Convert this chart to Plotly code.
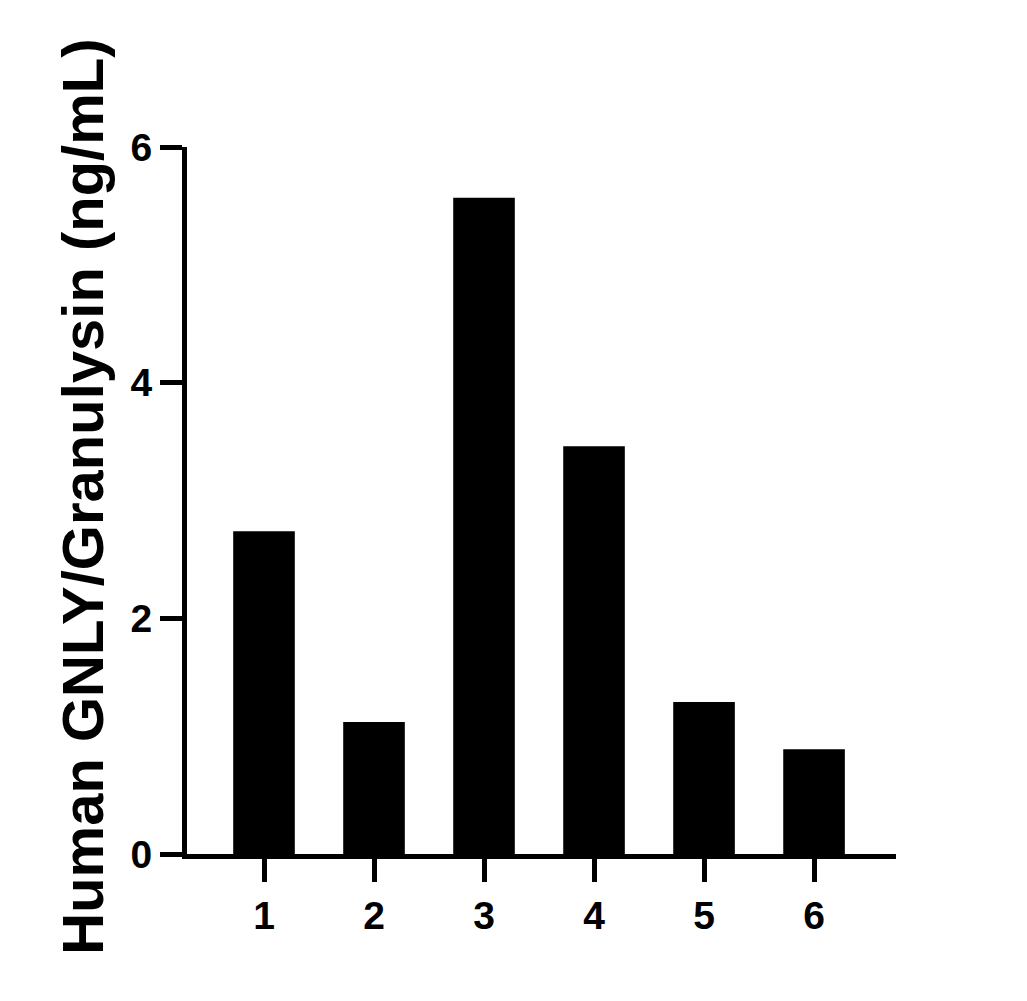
import plotly.graph_objects as go

# Sample numbers and measured GNLY concentration
samples = [1, 2, 3, 4, 5, 6]
sample_labels = ['1', '2', '3', '4', '5', '6']
gnly_ng_ml = [2.74, 1.12, 5.57, 3.46, 1.29, 0.89]

y_ticks = [0, 2, 4, 6]

font_family = 'Liberation Sans, Arial, sans-serif'

fig = go.Figure()

fig.add_trace(go.Bar(
    x=samples,
    y=gnly_ng_ml,
    width=0.56,
    marker=dict(color='black', line=dict(width=0)),
    showlegend=False,
))

# page body adds ~8px offset, so margins are shifted left/up to compensate
fig.update_layout(
    width=1027,
    height=1001,
    margin=dict(l=179, r=139, t=139, b=155),
    paper_bgcolor='white',
    plot_bgcolor='white',
    font=dict(family=font_family, color='black', size=38, weight='bold'),
)

fig.update_xaxes(
    range=[0.3, 6.745],
    tickmode='array',
    tickvals=samples,
    ticktext=sample_labels,
    showgrid=False,
    zeroline=False,
    showline=True,
    linecolor='black',
    linewidth=5,
    ticks='outside',
    ticklen=23,
    tickwidth=5,
    tickcolor='black',
    tickfont=dict(size=39, family=font_family, weight='bold'),
)

fig.update_yaxes(
    range=[0, 6],
    tickmode='array',
    tickvals=y_ticks,
    ticktext=[str(v) for v in y_ticks],
    showgrid=False,
    zeroline=False,
    showline=True,
    linecolor='black',
    linewidth=5,
    ticks='outside',
    ticklen=22,
    tickwidth=5,
    tickcolor='black',
    tickfont=dict(size=39, family=font_family, weight='bold'),
)

# y axis title as an annotation so its position can be set exactly
fig.add_annotation(
    text='Human GNLY/Granulysin (ng/mL)',
    xref='paper', yref='paper',
    x=-0.147, y=0.505,
    xanchor='center', yanchor='middle',
    textangle=-90,
    showarrow=False,
    font=dict(size=58, family=font_family, color='black', weight='bold'),
)

fig.write_html('out.html')
